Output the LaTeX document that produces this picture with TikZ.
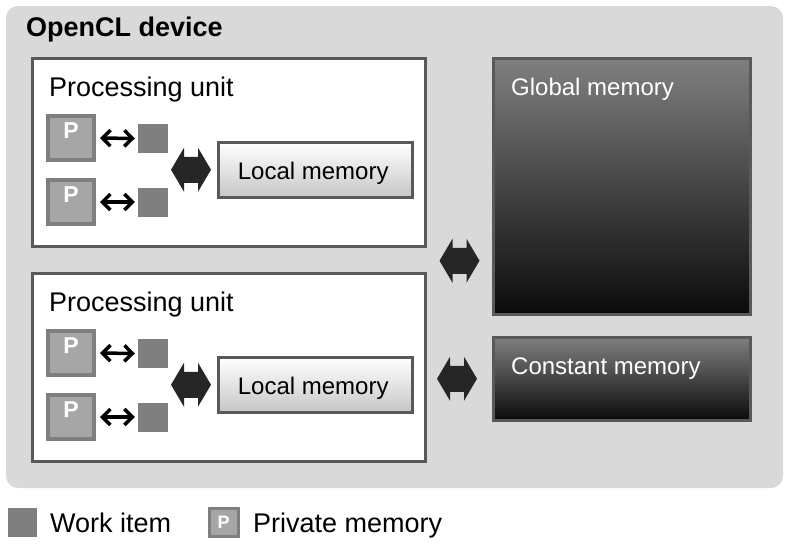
\documentclass[tikz,border=0pt]{standalone}
\usepackage{fontspec}
\setmainfont{Liberation Sans}
\usetikzlibrary{arrows.meta,positioning,calc}

\definecolor{devgray}{HTML}{D9D9D9}
\definecolor{edgegray}{HTML}{595959}
\definecolor{witem}{HTML}{7F7F7F}
\definecolor{pfill}{HTML}{A6A6A6}
\definecolor{fatgray}{HTML}{262626}

% fat two-headed arrow centred at a point
\newcommand{\fatarrow}[1]{%
  \fill[fatgray] #1 ++(-20,0) -- ++(13,-22) -- ++(0,9) -- ++(14,0) -- ++(0,-9)
    -- ++(13,22) -- ++(-13,22) -- ++(0,-9) -- ++(-14,0) -- ++(0,9) -- cycle;}

\begin{document}
\begin{tikzpicture}[
    x=1pt, y=-1pt,
    unit/.style={draw=edgegray, line width=2.5pt, fill=white, anchor=north west, inner sep=0},
    lmem/.style={draw=edgegray, line width=2.5pt, top color=white, bottom color=black!22, anchor=north west,
                 minimum width=194, minimum height=55, inner sep=0},
    gmem/.style={draw=edgegray, line width=2.5pt, top color=black!50, bottom color=black!96, anchor=north west, inner sep=0},
    pbox/.style={draw=witem, line width=4pt, fill=pfill, minimum width=46, minimum height=44, inner sep=0},
    ptxt/.style={text=white, inner sep=0, anchor=base, font=\fontsize{23}{26}\selectfont\bfseries},
    wbox/.style={fill=witem, minimum width=30, minimum height=29, inner sep=0},
    parr/.style={{Straight Barb[length=8pt,width=16pt,line width=3.5pt]}-{Straight Barb[length=8pt,width=16pt,line width=3.5pt]}, line width=3.5pt, black},
    big/.style={font=\fontsize{27}{30}\selectfont, inner sep=0},
    mid/.style={font=\fontsize{24}{28}\selectfont, inner sep=0, text=white}
]
\useasboundingbox (0,0) rectangle (794,554);

\fill[devgray, rounded corners=12pt] (6,6) rectangle (783,488);
\node[big, font=\bfseries\fontsize{27}{30}\selectfont, anchor=base west] (dev) at (26,36) {OpenCL device};

% processing units
\foreach \i/\y in {1/56, 2/271} {
  \node[unit, minimum width=393, minimum height=188] (pu\i) at (31,\y+1) {};
  \node[big, anchor=base west] (put\i) at (49,\y+40) {Processing unit};
  \node[lmem] (lm\i) at (217,\y+85) {};
  \node[font=\fontsize{24}{28}\selectfont, inner sep=0, anchor=base] (lmt\i) at ($(lm\i.center)+(-2,10)$) {Local memory};
  \node[pbox] (p\i a) at (71,\y+82) {};
  \node[pbox] (p\i b) at (71,\y+146) {};
  \node[ptxt] at ($(p\i a.north)+(0,24)$) {P};
  \node[ptxt] at ($(p\i b.north)+(0,24)$) {P};
  \node[wbox] (w\i a) at (153,\y+82.5) {};
  \node[wbox] (w\i b) at (153,\y+146) {};
  \draw[parr] (p\i a.east) ++(4,0) coordinate (s\i a) -- ($(w\i a.west)+(-3,0)$);
  \draw[parr] (p\i b.east) ++(4,0) coordinate (s\i b) -- ($(w\i b.west)+(-3,0)$);
  \fatarrow{($(lm\i.west)+(-26,0)$)}
}

% memories
\node[gmem, minimum width=257, minimum height=256] (gm) at (492,57) {};
\node[mid, anchor=base west] (gmt) at (511,95) {Global memory};
\node[gmem, minimum width=257, minimum height=83] (cm) at (492,336) {};
\node[mid, anchor=base west] (cmt) at (511,374) {Constant memory};

\fatarrow{($(pu1.south east)!0.5!(pu2.north east)+(33,1)$)}
\fatarrow{($(cm.west)+(-35,0)$)}

% legend
\node[wbox, minimum width=29, minimum height=29] (lw) at (22,522) {};
\node[big, anchor=base west] (lwt) at (50,532) {Work item};
\node[pbox, line width=3pt, minimum width=29, minimum height=28] (lp) at (223.5,522.5) {};
\node[ptxt, font=\fontsize{18}{20}\selectfont\bfseries, anchor=center] at (lp.center) {P};
\node[big, anchor=base west] (lpt) at (253,532) {Private memory};
\end{tikzpicture}
\end{document}
